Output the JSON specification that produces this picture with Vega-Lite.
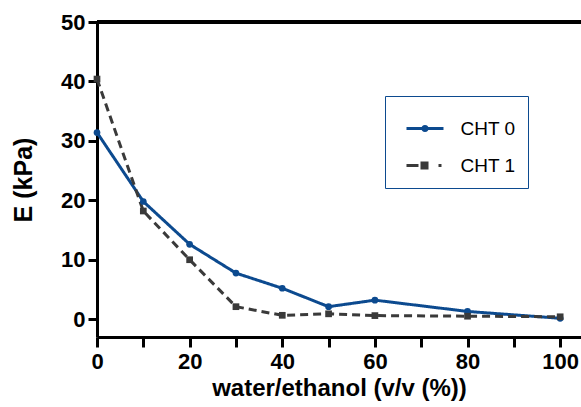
{
  "$schema": "https://vega.github.io/schema/vega-lite/v6.json",
  "width": 484,
  "height": 315,
  "autosize": {"type": "none"},
  "padding": {"left": 97, "top": 22, "right": 0, "bottom": 70},
  "background": "white",
  "config": {"view": {"stroke": null}, "font": "Liberation Sans", "legend": {"symbolStrokeWidth": 3}},
  "data": {
    "values": [
      {"ratio": 0, "E": 31.4, "series": "CHT 0"},
      {"ratio": 10, "E": 19.8, "series": "CHT 0"},
      {"ratio": 20, "E": 12.6, "series": "CHT 0"},
      {"ratio": 30, "E": 7.75, "series": "CHT 0"},
      {"ratio": 40, "E": 5.2, "series": "CHT 0"},
      {"ratio": 50, "E": 2.1, "series": "CHT 0"},
      {"ratio": 60, "E": 3.2, "series": "CHT 0"},
      {"ratio": 80, "E": 1.3, "series": "CHT 0"},
      {"ratio": 100, "E": 0.15, "series": "CHT 0"},
      {"ratio": 0, "E": 40.4, "series": "CHT 1"},
      {"ratio": 10, "E": 18.2, "series": "CHT 1"},
      {"ratio": 20, "E": 10.0, "series": "CHT 1"},
      {"ratio": 30, "E": 2.1, "series": "CHT 1"},
      {"ratio": 40, "E": 0.65, "series": "CHT 1"},
      {"ratio": 50, "E": 0.9, "series": "CHT 1"},
      {"ratio": 60, "E": 0.6, "series": "CHT 1"},
      {"ratio": 80, "E": 0.5, "series": "CHT 1"},
      {"ratio": 100, "E": 0.4, "series": "CHT 1"}
    ]
  },
  "layer": [
    {
      "mark": {"type": "line", "strokeWidth": 3},
      "encoding": {
        "x": {
          "field": "ratio", "type": "quantitative",
          "scale": {"domain": [0, 104.5], "nice": false, "zero": false},
          "axis": {
            "values": [0, 10, 20, 30, 40, 50, 60, 70, 80, 90, 100],
            "labelExpr": "datum.value % 20 === 0 ? datum.label : ''",
            "title": "water/ethanol (v/v (%))",
            "grid": false,
            "domainColor": "black", "domainWidth": 3,
            "tickColor": "black", "tickWidth": 3, "tickSize": 10,
            "labelFont": "Liberation Sans", "labelFontSize": 22, "labelFontWeight": "bold", "labelColor": "black",
            "labelPadding": 4, "labelFlush": false, "labelOverlap": false,
            "titleFont": "Liberation Sans", "titleFontSize": 24, "titleFontWeight": "bold", "titleColor": "black",
            "titlePadding": 4,
            "encode": {"ticks": {"update": {"y2": {"signal": "datum.value % 20 === 0 ? 10 : 5"}}}}
          }
        },
        "y": {
          "field": "E", "type": "quantitative",
          "scale": {"domain": [-3, 50], "nice": false, "zero": false},
          "axis": {
            "values": [0, 10, 20, 30, 40, 50],
            "title": "E (kPa)",
            "grid": false,
            "domainColor": "black", "domainWidth": 3,
            "tickColor": "black", "tickWidth": 3, "tickSize": 9,
            "labelFont": "Liberation Sans", "labelFontSize": 22, "labelFontWeight": "bold", "labelColor": "black",
            "labelPadding": 3, "labelFlush": false, "labelOverlap": false,
            "titleFont": "Liberation Sans", "titleFontSize": 25, "titleFontWeight": "bold", "titleColor": "black",
            "titlePadding": 24
          }
        },
        "color": {
          "condition": {"test": "datum.series === 'CHT 0'", "value": "#0c4a8f"},
          "value": "#3a3a3a"
        },
        "strokeDash": {
          "condition": {"test": "datum.series === 'CHT 0'", "value": [1, 0]},
          "value": [8, 5]
        },
        "detail": {"field": "series", "type": "nominal"}
      }
    },
    {
      "mark": {"type": "point", "filled": true, "opacity": 1, "size": 45},
      "encoding": {
        "x": {"field": "ratio", "type": "quantitative"},
        "y": {"field": "E", "type": "quantitative"},
        "color": {
          "condition": {"test": "datum.series === 'CHT 0'", "value": "#0c4a8f"},
          "value": "#3a3a3a"
        },
        "shape": {
          "condition": {"test": "datum.series === 'CHT 0'", "value": "circle"},
          "value": "square"
        }
      }
    },
    {
      "mark": {"type": "point", "filled": false, "opacity": 0, "strokeWidth": 3},
      "encoding": {
        "x": {"field": "ratio", "type": "quantitative"},
        "y": {"field": "E", "type": "quantitative"},
        "color": {
          "field": "series", "type": "nominal",
          "scale": {"domain": ["CHT 0", "CHT 1"], "range": ["#0c4a8f", "#3a3a3a"]},
          "legend": {
            "title": null,
            "orient": "none",
            "legendX": 288,
            "legendY": 74,
            "padding": 12.5,
            "symbolSize": 1369,
            "symbolStrokeWidth": 3,
            "symbolOpacity": 1,
            "labelFont": "Liberation Sans",
            "labelFontSize": 19,
            "labelColor": "black",
            "labelOffset": 23,
            "rowPadding": 7,
            "strokeColor": "#0c4a8f",
            "encode": {"legend": {"update": {"strokeWidth": {"value": 3}}}}
          }
        },
        "shape": {
          "field": "series", "type": "nominal",
          "scale": {
            "domain": ["CHT 0", "CHT 1"],
            "range": [
              "M-0.595,0H1.405M0.513,0A0.108,0.108 0 1,1 0.297,0A0.108,0.108 0 1,1 0.513,0ZM0.455,0A0.05,0.05 0 1,1 0.355,0A0.05,0.05 0 1,1 0.455,0Z",
              "M-0.595,0H0.054M0.162,-0.135H0.595M0.162,-0.068H0.595M0.162,0H0.595M0.162,0.068H0.595M0.162,0.135H0.595M1.135,0H1.297"
            ]
          },
          "legend": {
            "title": null,
            "orient": "none",
            "legendX": 288,
            "legendY": 74,
            "padding": 12.5,
            "symbolSize": 1369,
            "symbolStrokeWidth": 3,
            "symbolOpacity": 1,
            "labelFont": "Liberation Sans",
            "labelFontSize": 19,
            "labelColor": "black",
            "labelOffset": 23,
            "rowPadding": 7,
            "strokeColor": "#0c4a8f",
            "encode": {"legend": {"update": {"strokeWidth": {"value": 3}}}}
          }
        }
      }
    },
    {
      "mark": {"type": "rule", "color": "black", "strokeWidth": 3},
      "encoding": {"y": {"datum": 50, "type": "quantitative"}}
    }
  ]
}
